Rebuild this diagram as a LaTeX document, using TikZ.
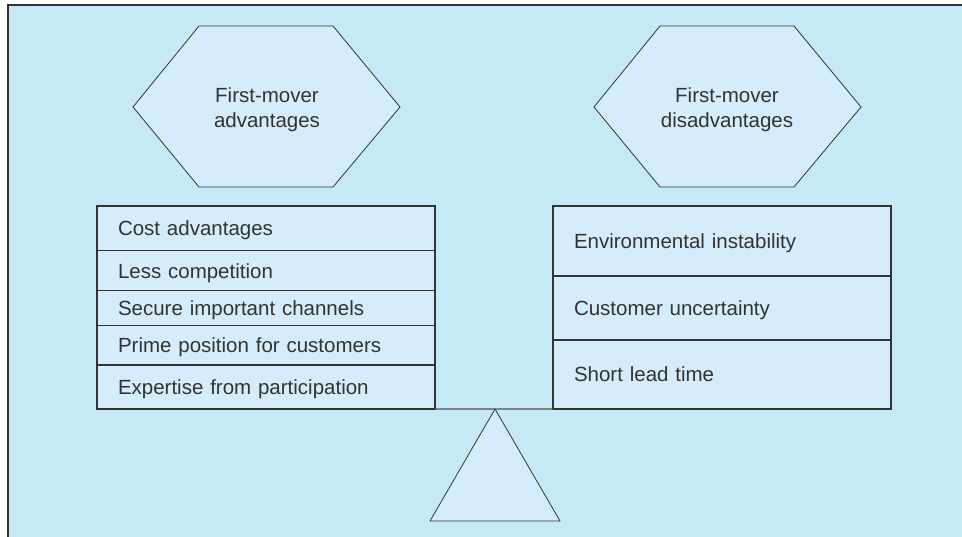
\documentclass[tikz,border=0pt]{standalone}
\usepackage{fontspec}
\setmainfont{Liberation Sans}
\usetikzlibrary{positioning}
\definecolor{sky-back}{HTML}{C6E9F8}
\definecolor{sky-fill}{HTML}{D5EDFA}
\definecolor{ink}{HTML}{333333}

\begin{document}
\begin{tikzpicture}[x=1pt,y=-1pt,
		hexa/.style={draw=ink, fill=sky-fill, line width=0.8pt, line join=miter},
		hexlabel/.style={align=center, text=ink, yshift=-2.5pt, font=\fontsize{20.5}{25}\selectfont},
		row/.style={rectangle, draw=ink, fill=sky-fill, line width=1.2pt, outer sep=0pt,
			inner xsep=21pt, inner ysep=0pt, text width=296pt, text depth=0pt, align=left,
			text=ink, font=\fontsize{20.5}{25}\selectfont}
	]
		\useasboundingbox (0,0) rectangle (962,537);
		\fill[sky-back] (8,5) rectangle (962,537);
		\draw[ink, line width=1.6pt] (8,537) -- (8,5) -- (962,5);
		
		% hexagons
		\draw[hexa] (133,107) -- ++(66,-81) -- ++(134,0) -- ++(67,81) -- ++(-67,80) -- ++(-134,0) -- cycle;
		\node[hexlabel] (adv) at (267,107) {First-mover\\advantages};
		\draw[hexa] (594,107) -- ++(66,-81) -- ++(134,0) -- ++(67,81) -- ++(-67,80) -- ++(-134,0) -- cycle;
		\node[hexlabel] (dis) at (727,107) {First-mover\\disadvantages};
		
		% fulcrum
		\coordinate (pivot) at (495,409);
		\draw[hexa] (pivot) -- (430,521) -- (560,521) -- cycle;
		
		% left pan
		\node[row, minimum height=44.7pt, anchor=north west] (a1) at (97,206) {Cost advantages};
		\node[row, minimum height=40pt, below=0pt of a1] (a2) {Less competition};
		\node[row, minimum height=34.6pt, below=0pt of a2] (a3) {Secure important channels};
		\node[row, minimum height=39.7pt, below=0pt of a3] (a4) {Prime position for customers};
		\node[row, minimum height=44pt, below=0pt of a4] (a5) {Expertise from participation};
		
		% right pan
		\node[row, minimum height=70pt, anchor=north west] (d1) at (553,206) {Environmental instability};
		\node[row, minimum height=64pt, below=0pt of d1] (d2) {Customer uncertainty};
		\node[row, minimum height=69pt, below=0pt of d2] (d3) {Short lead time};
		
		% beam
		\draw[ink!85, line width=1.2pt] (a5.south east) -- (d3.south west);
	\end{tikzpicture}
\end{document}
